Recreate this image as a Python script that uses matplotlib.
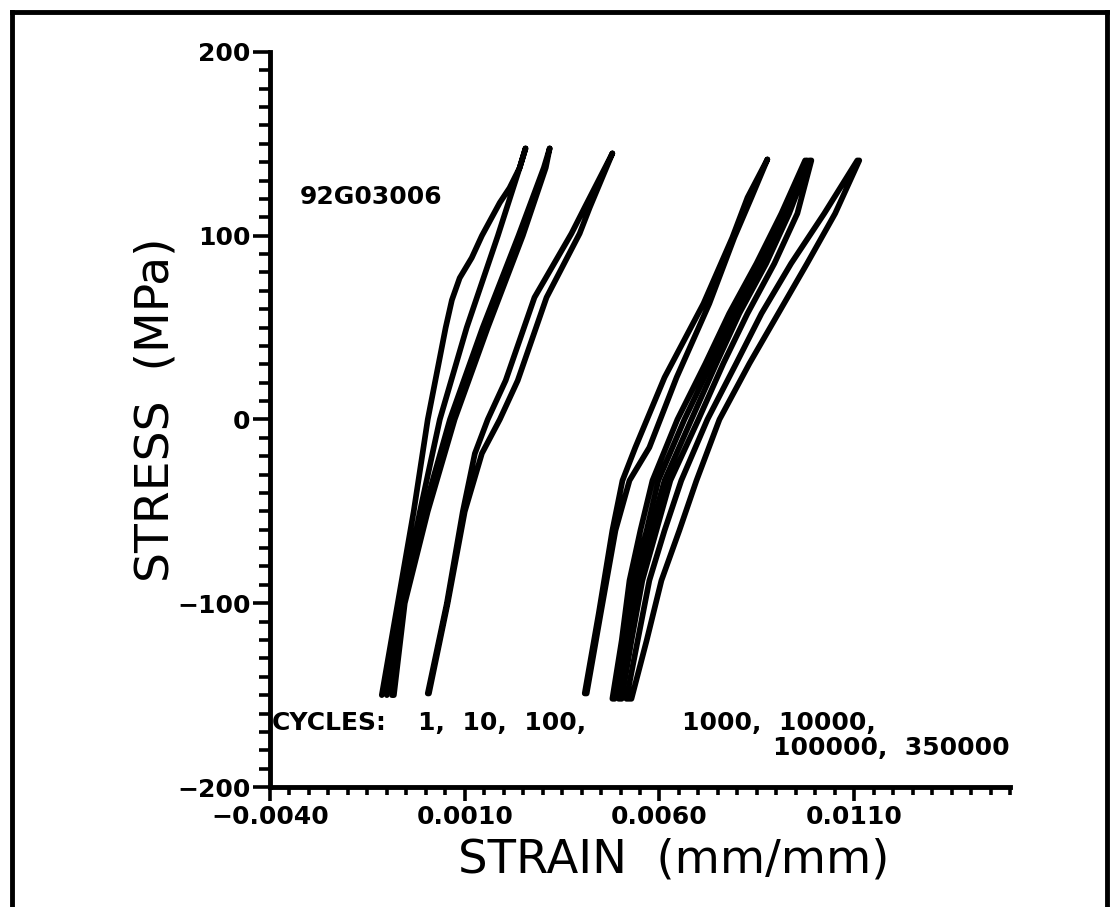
import numpy as np
import matplotlib.pyplot as plt
from matplotlib.lines import Line2D
from matplotlib.ticker import MultipleLocator

# Петли гистерезиса: напряжение (МПа) и деформация (мм/мм), две ветви на петлю
cycles = [1, 10, 100, 1000, 10000, 100000, 350000]

stress_1_a = [-150, -100, -50, 0, 50, 65, 77, 88, 100, 118, 126, 137, 147.5]
strain_1_a = [-0.00113, -0.00072, -0.00031, 0.00005, 0.00051, 0.00067, 0.00087,
              0.00118, 0.00144, 0.00190, 0.00215, 0.00241, 0.00256]
stress_1_b = [147.5, 137, 100, 50, 0, -50, -100, -150]
strain_1_b = [0.00256, 0.00241, 0.00185, 0.00105, 0.00036, -0.00015, -0.00062, -0.00100]

stress_10 = [147.5, 137, 100, 50, 0, -50, -100, -150]
strain_10_a = [0.00318, 0.00308, 0.00249, 0.00159, 0.00074, 0.00005, -0.00054, -0.00082]
strain_10_b = [0.00318, 0.00303, 0.00238, 0.00146, 0.00062, -0.00005, -0.00062, -0.00087]

stress_100 = [144.8, 115.4, 101.2, 66.4, 21.2, 0, -18.5, -50.1, -100.1, -149.1]
strain_100_a = [0.00479, 0.00408, 0.00374, 0.00279, 0.00205, 0.00159, 0.00126,
                0.00095, 0.00054, 0.00005]
strain_100_b = [0.00479, 0.00421, 0.00395, 0.00310, 0.00236, 0.00190, 0.00144,
                0.00100, 0.00056, 0.00008]

stress_1000 = [141.5, 120.8, 99.0, 63.1, 22.9, -15.2, -33.2, -60.4, -105.6, -149.1]
strain_1000_a = [0.00877, 0.00826, 0.00787, 0.00713, 0.00613, 0.00538, 0.00505,
                 0.00479, 0.00444, 0.00408]
strain_1000_b = [0.00877, 0.00836, 0.00792, 0.00728, 0.00644, 0.00574, 0.00523,
                 0.00487, 0.00449, 0.00413]

stress_late = [141, 112.1, 84.9, 57.7, 30.5, 0, -33.2, -60.4, -87.6, -120.3, -152]
strain_10000_a = [0.00974, 0.00913, 0.00849, 0.00779, 0.00718, 0.00646, 0.00582,
                  0.00551, 0.00523, 0.00503, 0.00479]
strain_10000_b = [0.00979, 0.00923, 0.00862, 0.00792, 0.00733, 0.00664, 0.00597,
                  0.00567, 0.00533, 0.00510, 0.00485]
strain_100000_a = [0.00985, 0.00933, 0.00874, 0.00805, 0.00746, 0.00682, 0.00613,
                   0.00577, 0.00544, 0.00518, 0.00495]
strain_100000_b = [0.00990, 0.00954, 0.00895, 0.00826, 0.00764, 0.00700, 0.00628,
                   0.00592, 0.00556, 0.00528, 0.00503]
strain_350000_a = [0.01108, 0.01023, 0.00938, 0.00862, 0.00797, 0.00723, 0.00656,
                   0.00613, 0.00574, 0.00544, 0.00515]
strain_350000_b = [0.01113, 0.01051, 0.00979, 0.00905, 0.00831, 0.00754, 0.00695,
                   0.00651, 0.00605, 0.00567, 0.00528]

x_ticks = [-0.004, 0.001, 0.006, 0.011]
x_tick_labels = ["\u22120.0040", "0.0010", "0.0060", "0.0110"]
y_ticks = [-200, -100, 0, 100, 200]
y_tick_labels = ["\u2212200", "\u2212100", "0", "100", "200"]

loops = [
    (strain_1_a, stress_1_a, strain_1_b, stress_1_b),
    (strain_10_a, stress_10, strain_10_b, stress_10),
    (strain_100_a, stress_100, strain_100_b, stress_100),
    (strain_1000_a, stress_1000, strain_1000_b, stress_1000),
    (strain_10000_a, stress_late, strain_10000_b, stress_late),
    (strain_100000_a, stress_late, strain_100000_b, stress_late),
    (strain_350000_a, stress_late, strain_350000_b, stress_late),
]

fig = plt.figure(figsize=(11.19, 9.07), dpi=100)
ax = fig.add_axes([0.2413, 0.1323, 0.6613, 0.8104])

for xa, ya, xb, yb in loops:
    # если ветви идут в одну сторону, вторую разворачиваем, чтобы петля замкнулась
    same_dir = (ya[0] < ya[-1]) == (yb[0] < yb[-1])
    xb2 = list(xb)[::-1] if same_dir else list(xb)
    yb2 = list(yb)[::-1] if same_dir else list(yb)
    ax.plot(list(xa) + xb2, list(ya) + yb2, color="black", lw=4.1,
            solid_joinstyle="round", solid_capstyle="round")

ax.set_xlim(-0.004, 0.015)
ax.set_ylim(-200, 200)
ax.spines["top"].set_visible(False)
ax.spines["right"].set_visible(False)
for s in ("left", "bottom"):
    ax.spines[s].set_linewidth(3.5)

ax.set_xticks(x_ticks)
ax.set_xticklabels(x_tick_labels)
ax.set_yticks(y_ticks)
ax.set_yticklabels(y_tick_labels)
ax.xaxis.set_minor_locator(MultipleLocator(0.0005))
ax.yaxis.set_minor_locator(MultipleLocator(10))
ax.tick_params(axis="x", which="major", length=10, width=2.6, pad=3,
               labelsize=18, direction="out")
ax.tick_params(axis="x", which="minor", length=6, width=2.6, direction="out")
ax.tick_params(axis="y", which="major", length=12, width=2.6, pad=2,
               labelsize=18, direction="out")
ax.tick_params(axis="y", which="minor", length=8, width=2.6, direction="out")
for lab in ax.get_xticklabels() + ax.get_yticklabels():
    lab.set_fontweight("bold")

ax.set_xlabel("STRAIN  (mm/mm)", fontsize=33.5)
ax.xaxis.set_label_coords(0.545, -0.069)
ax.set_ylabel("STRESS  (MPa)", fontsize=34)
ax.yaxis.set_label_coords(-0.124, 0.513)

ax.text(0.04, 0.803, "92G03006", transform=ax.transAxes, fontsize=18,
        fontweight="bold", va="center")
ax.text(0.003, 0.087, "CYCLES:", transform=ax.transAxes, fontsize=18,
        fontweight="bold", va="center")
ax.text(0.2, 0.087, "1,  10,  100,", transform=ax.transAxes, fontsize=18,
        fontweight="bold", va="center")
ax.text(0.557, 0.087, "1000,  10000,", transform=ax.transAxes, fontsize=18,
        fontweight="bold", va="center")
ax.text(0.68, 0.053, "100000,  350000", transform=ax.transAxes, fontsize=18,
        fontweight="bold", va="center")

# рамка вокруг всего рисунка (снизу открыта)
fx0, fx1, fy1 = 12 / 1119, 1107 / 1119, 1 - 12 / 907
for xs, ys in [([fx0, fx0], [0, fy1]), ([fx0, fx1], [fy1, fy1]), ([fx1, fx1], [fy1, 0])]:
    fig.add_artist(Line2D(xs, ys, transform=fig.transFigure, color="black",
                          lw=3.5, solid_capstyle="projecting"))

fig.savefig("out.png", dpi=100)
